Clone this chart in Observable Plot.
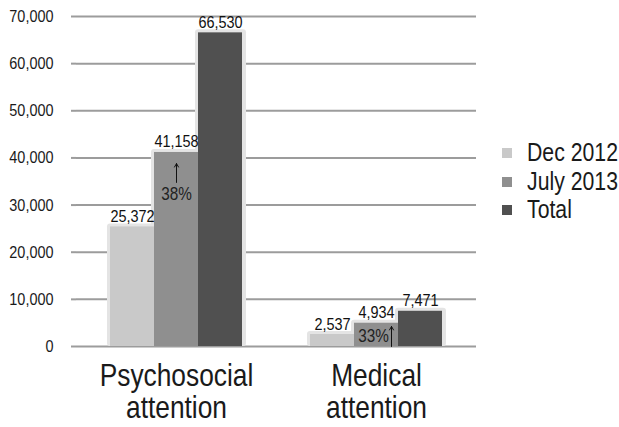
<!DOCTYPE html>
<html>
<head>
<meta charset="utf-8">
<script src="https://cdn.jsdelivr.net/npm/d3@7"></script>
<script src="https://cdn.jsdelivr.net/npm/@observablehq/plot@0.6"></script>
<style>
  html, body { margin: 0; padding: 0; background: #fff; }
  body { width: 619px; height: 427px; position: relative; overflow: hidden;
         font-family: "Liberation Sans", Arial, sans-serif; }
  #chart { position: absolute; left: 0; top: 0; }
  #legend { position: absolute; left: 502px; top: 138px; font-size: 25px; color: #1a1a1a; }
  #legend .row { position: relative; height: 28.5px; width: 117px; }
  #legend .sw { position: absolute; left: 0; top: 10px; width: 10px; height: 10px; }
  #legend .lab { position: absolute; left: 25px; top: 0; line-height: 28.5px; white-space: nowrap;
                 transform: scaleX(0.85); transform-origin: left center; }
</style>
</head>
<body>
<div id="chart"></div>
<div id="legend"></div>
<script>
const categories = ["Psychosocial\nattention", "Medical\nattention"];
const series = ["Dec 2012", "July 2013", "Total"];
const colors = ["#c9c9c9", "#8f8f8f", "#505050"];
const psychosocial = [25372, 41158, 66530];
const medical = [2537, 4934, 7471];
const yTicks = [0, 10000, 20000, 30000, 40000, 50000, 60000, 70000];
// percent-change annotations (value-space positions, July 2013 bars)
const pctLabels = ["38%", "33%"];
const pctLabelY = [32350, 2230];
const arrowFrom = [34800, 0];
const arrowTo = [38800, 4250];

const data = [];
series.forEach((s, i) => {
  data.push({cat: categories[0], series: s, value: psychosocial[i]});
  data.push({cat: categories[1], series: s, value: medical[i]});
});
const notes = categories.map((c, i) => ({
  cat: c, series: series[1], label: pctLabels[i], ly: pctLabelY[i], a1: arrowFrom[i], a2: arrowTo[i]
}));
const notePsy = notes.filter(d => d.cat === categories[0]);
const noteMed = notes.filter(d => d.cat === categories[1]);

const font = '"Liberation Sans", Arial, sans-serif';
const grid = "#9c9c9c";

const chart = Plot.plot({
  width: 490,
  height: 427,
  marginLeft: 76,
  marginRight: 14,
  marginTop: 16,
  marginBottom: 81,
  style: {fontFamily: font, color: "#1a1a1a", background: "white"},
  fx: {domain: categories, padding: 0, label: null},
  x: {domain: series, padding: 0, paddingOuter: 0.75, axis: null},
  y: {domain: [0, 70000], label: null, axis: null},
  color: {domain: series, range: colors},
  marks: [
    Plot.ruleY(yTicks, {stroke: grid, strokeWidth: 2}),
    Plot.axisY({ticks: yTicks, tickFormat: d3.format(","), tickSize: 5, tickPadding: 18, fontSize: 17,
                stroke: grid, strokeWidth: 2, label: null, fill: "#1a1a1a"}),
    Plot.ruleX([0], {frameAnchor: "left", stroke: grid, strokeWidth: 2.5, facet: "exclude", fx: null}),
    Plot.axisFx({anchor: "bottom", tickSize: 0, tickPadding: 17, fontSize: 31, lineHeight: 1.03,
                 label: null, lineAnchor: "top", fill: "#1a1a1a"}),
    // soft shadow around bars
    Plot.barY(data, {fx: "cat", x: "series", y: "value", fill: "#e4e4e4",
                     insetLeft: -3, insetRight: -4, insetTop: -3, rx: 3}),
    Plot.barY(data, {fx: "cat", x: "series", y: "value", fill: "series"}),
    Plot.text(data, {fx: "cat", x: "series", y: "value", text: d => d3.format(",")(d.value),
                     lineAnchor: "bottom", dy: -5, fontSize: 17, fill: "#111"}),
    Plot.text(notePsy, {fx: "cat", x: "series", y: "ly", text: "label", fontSize: 18, fill: "#222"}),
    Plot.text(noteMed, {fx: "cat", x: "series", y: "ly", text: "label", fontSize: 18, fill: "#222", dx: -3}),
    Plot.arrow(notePsy, {fx: "cat", x1: "series", x2: "series", y1: "a1", y2: "a2",
                         stroke: "#111", strokeWidth: 1, headLength: 6, bend: 0}),
    Plot.arrow(noteMed, {fx: "cat", x1: "series", x2: "series", y1: "a1", y2: "a2", dx: 15,
                         stroke: "#111", strokeWidth: 1, headLength: 6, bend: 0})
  ]
});

// condensed look: narrow every label horizontally around its anchor
chart.querySelectorAll("text").forEach(t => {
  const tr = t.getAttribute("transform") || "";
  t.setAttribute("transform", (tr + " scale(0.85,1)").trim());
});

document.getElementById("chart").appendChild(chart);

const legend = document.getElementById("legend");
series.forEach((s, i) => {
  const row = document.createElement("div");
  row.className = "row";
  const sw = document.createElement("div");
  sw.className = "sw";
  sw.style.background = colors[i];
  const t = document.createElement("span");
  t.className = "lab";
  t.textContent = s;
  row.appendChild(sw);
  row.appendChild(t);
  legend.appendChild(row);
});
</script>
</body>
</html>
